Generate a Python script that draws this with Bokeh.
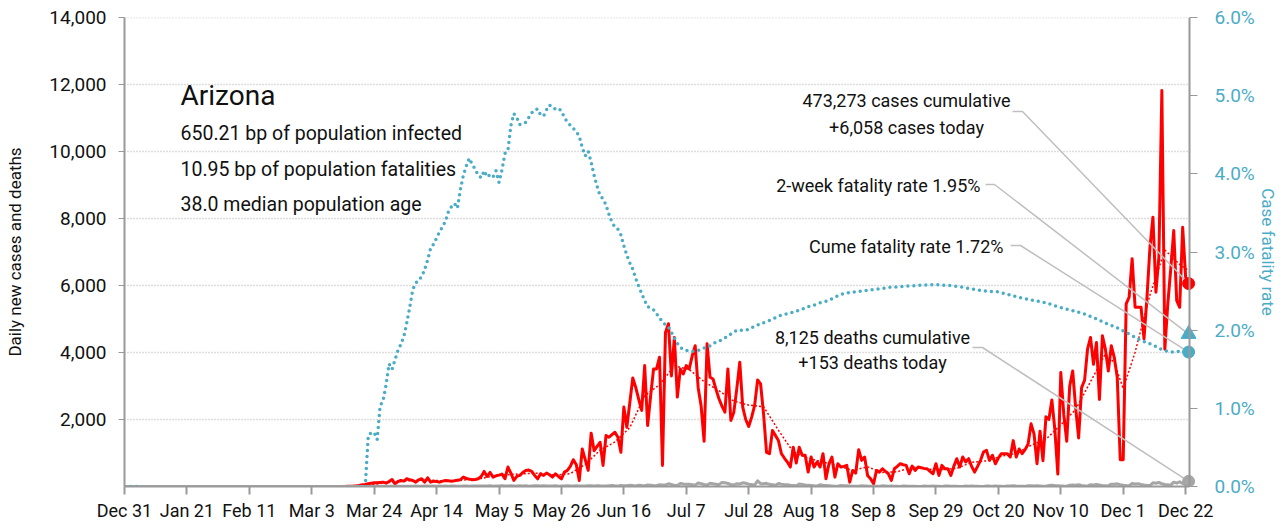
import math
from bokeh.plotting import figure
from bokeh.models import (Range1d, LinearAxis, FixedTicker, NumeralTickFormatter,
                          PrintfTickFormatter, Label, Span)
from bokeh.embed import file_html
from bokeh.resources import INLINE

# ---------------- data (day 0 = Dec 31, 2019) ----------------
x_tick_days = [0, 21, 42, 63, 84, 105, 126, 147, 168, 189, 210, 231, 252, 273, 294, 315, 336, 357]
x_tick_labels = ["Dec 31", "Jan 21", "Feb 11", "Mar 3", "Mar 24", "Apr 14", "May 5", "May 26",
                 "Jun 16", "Jul 7", "Jul 28", "Aug 18", "Sep 8", "Sep 29", "Oct 20", "Nov 10",
                 "Dec 1", "Dec 22"]
left_ticks = [2000, 4000, 6000, 8000, 10000, 12000, 14000]
right_ticks = [0, 1, 2, 3, 4, 5, 6]

# daily new cases, from day 70 (Mar 10) on; zero before
cases = [0] * 70 + [
    0, 0, 1, 2, 3, 5, 8,
    12, 20, 30, 50, 60, 80, 100,
    110, 110, 120, 130, 100, 150, 210,
    80, 150, 180, 160, 230, 200, 180,
    130, 200, 230, 130, 260, 130, 160,
    150, 130, 160, 180, 170, 160, 170,
    190, 200, 280, 240, 220, 200, 210,
    230, 300, 450, 300, 420, 280, 320,
    340, 370, 230, 580, 400, 180, 300,
    330, 420, 480, 490, 450, 330, 230,
    380, 330, 400, 350, 280, 380, 300,
    230, 430, 480, 600, 800, 650, 180,
    1120, 800, 480, 1590, 1070, 1200, 1320,
    630, 1520, 1470, 1550, 1620, 1470, 1020,
    2370, 1770, 2500, 3240, 2960, 2600, 2270,
    3610, 1820, 2700, 3510, 3510, 3860, 630,
    4600, 4860, 3300, 4450, 2670, 3510, 3360,
    3610, 3510, 3900, 4200, 2950, 2400, 1350,
    4260, 3260, 3210, 2900, 2620, 2400, 2220,
    3510, 1970, 2220, 2920, 3710, 2370, 2000,
    1790, 2070, 2420, 3180, 3060, 2170, 1020,
    980, 1670, 1520, 1370, 980, 850, 730,
    580, 1170, 700, 1170, 930, 930, 430,
    880, 580, 730, 580, 980, 230, 680,
    880, 280, 680, 580, 600, 630, 130,
    480, 400, 1100, 780, 880, 330, 230,
    80, 480, 430, 530, 450, 380, 180,
    530, 600, 680, 650, 630, 380, 610,
    480, 580, 560, 540, 530, 450, 380,
    680, 330, 630, 530, 530, 330, 600,
    830, 580, 880, 730, 830, 600, 430,
    600, 780, 1030, 1080, 780, 930, 680,
    850, 980, 980, 980, 880, 1370, 880,
    1120, 980, 1100, 1270, 1870, 1570, 680,
    1650, 770, 2080, 2000, 2580, 1700, 370,
    3400, 2150, 1350, 3000, 3450, 2350, 1450,
    2950, 3170, 4100, 4450, 3650, 4300, 2600,
    4500, 4100, 3450, 4200, 3850, 3250, 800,
    800, 5450, 5650, 6800, 5350, 5350, 5350,
    4410, 5650, 7140, 8040, 5800, 6850, 11820,
    4100, 5450, 6500, 7640, 5550, 5350, 7740,
    6250, 6058,
]

# daily deaths, from day 78 (Mar 18) on; zero before
deaths = [0] * 78 + [
    0, 0, 1, 0, 2, 1, 2,
    3, 2, 4, 3, 5, 4, 6,
    5, 8, 7, 10, 6, 9, 12,
    10, 8, 14, 12, 9, 15, 11,
    13, 10, 16, 9, 14, 12, 11,
    10, 15, 13, 8, 16, 12, 14,
    17, 12, 15, 20, 10, 18, 14,
    22, 16, 12, 25, 18, 14, 20,
    15, 21, 11, 17, 24, 19, 13,
    20, 16, 12, 18, 22, 10, 15,
    14, 20, 17, 12, 25, 18, 15,
    16, 22, 19, 14, 25, 20, 18,
    12, 24, 28, 20, 16, 30, 25,
    22, 35, 28, 18, 40, 30, 25,
    44, 38, 30, 25, 52, 48, 45,
    80, 60, 35, 28, 90, 75, 65,
    70, 55, 40, 105, 85, 60, 45,
    95, 80, 70, 55, 120, 110, 90,
    60, 45, 85, 75, 110, 95, 70,
    60, 40, 172, 85, 80, 95, 65,
    50, 35, 90, 70, 60, 55, 40,
    30, 20, 75, 60, 45, 40, 30,
    20, 15, 50, 35, 30, 25, 18,
    10, 8, 30, 25, 20, 15, 10,
    6, 5, 25, 18, 12, 10, 8,
    5, 4, 20, 15, 10, 12, 6,
    4, 3, 18, 12, 10, 8, 5,
    3, 2, 15, 10, 8, 12, 6,
    4, 3, 12, 18, 10, 8, 5,
    2, 1, 14, 10, 12, 8, 6,
    3, 2, 16, 12, 10, 14, 8,
    5, 3, 18, 14, 20, 12, 10,
    6, 4, 22, 25, 18, 20, 15,
    10, 8, 30, 35, 28, 25, 18,
    12, 10, 40, 45, 35, 50, 30,
    20, 15, 55, 48, 60, 42, 30,
    25, 18, 70, 65, 80, 55, 40,
    30, 25, 90, 75, 85, 60, 45,
    35, 30, 110, 95, 120, 80, 60,
    50, 40, 130, 100, 140, 90, 70,
    153,
]

# 7-day average of new cases, read at selected days
avg_days = [0, 75, 80, 85, 90, 95, 100, 105, 110, 115, 120, 125, 130, 135, 140, 145, 150,
            155, 160, 165, 170, 175, 180, 185, 190, 195, 200, 205, 210, 215, 220, 225, 230,
            235, 240, 245, 250, 255, 260, 265, 270, 275, 280, 285, 290, 295, 300, 305, 310,
            315, 320, 325, 330, 333, 336, 340, 345, 350, 355, 358]
avg_cases = [0, 2, 18, 77, 133, 166, 190, 180, 159, 201, 240, 329, 360, 384, 397, 336, 386,
             661, 1083, 1330, 1757, 2707, 3040, 3601, 3490, 3130, 2860, 2550, 2430, 2380, 1680,
             1030, 845, 730, 615, 480, 585, 420, 440, 580, 520, 505, 540, 720, 765, 905, 990,
             1230, 1410, 1840, 2300, 3130, 3960, 3700, 2920, 4010, 5720, 7060, 6630, 6440]

# case fatality rate (%)
cfr_early_days = [0, 6]
cfr_early = [0.0, 0.0]
cfr_days = [79, 81, 82, 83, 84, 85, 86, 87, 88, 89, 90, 91, 92, 93, 94, 95, 96, 97, 98, 99,
            100, 101, 102, 103, 104, 105, 106, 107, 108, 109, 110, 111, 112, 113, 114, 115,
            116, 117, 118, 119, 120, 121, 122, 123, 124, 125, 126, 127, 128, 129, 130, 131,
            132, 133, 134, 135, 136, 137, 138, 139, 140, 141, 142, 143, 144, 145, 146, 147,
            148, 149, 150, 151, 152, 153, 154, 155, 156, 157, 158, 159, 160, 161, 162, 163,
            164, 165, 166, 167, 168, 169, 170, 171, 172, 173, 174, 175, 176, 177, 178, 179,
            180, 181, 182, 183, 184, 185, 186, 187, 188, 189, 190, 191, 192, 193, 194, 195,
            196, 197, 198, 199, 200, 201, 202, 203, 204, 205, 206, 207, 208, 209, 210, 212,
            214, 216, 218, 220, 222, 224, 226, 228, 230, 232, 234, 236, 238, 240, 242, 244,
            246, 248, 250, 252, 254, 258, 262, 266, 270, 274, 278, 282, 286, 290, 294, 298,
            302, 306, 310, 314, 318, 322, 326, 330, 334, 338, 342, 346, 349, 352, 355, 358]
cfr_pct = [0.0, 0.0, 0.65, 0.69, 0.69, 0.60, 1.03, 1.10, 1.30, 1.57, 1.50, 1.62, 1.74, 1.82,
           1.92, 2.10, 2.30, 2.52, 2.60, 2.65, 2.68, 2.78, 2.90, 3.05, 3.10, 3.18, 3.26, 3.32,
           3.40, 3.52, 3.58, 3.62, 3.56, 3.80, 3.98, 4.10, 4.20, 4.12, 4.06, 3.98, 3.95, 4.04,
           3.96, 3.99, 3.96, 4.04, 3.89, 4.05, 4.26, 4.30, 4.62, 4.77, 4.72, 4.63, 4.64, 4.66,
           4.72, 4.78, 4.82, 4.83, 4.75, 4.74, 4.82, 4.88, 4.84, 4.83, 4.84, 4.80, 4.72, 4.66,
           4.62, 4.58, 4.54, 4.48, 4.34, 4.23, 4.29, 4.15, 3.98, 3.84, 3.72, 3.68, 3.60, 3.48,
           3.38, 3.32, 3.29, 3.22, 3.08, 2.96, 2.86, 2.78, 2.66, 2.56, 2.47, 2.38, 2.30, 2.29,
           2.26, 2.21, 2.16, 2.10, 2.07, 2.04, 1.97, 1.90, 1.83, 1.78, 1.75, 1.74, 1.74, 1.73,
           1.73, 1.74, 1.76, 1.77, 1.78, 1.80, 1.82, 1.85, 1.86, 1.88, 1.90, 1.93, 1.95, 1.97,
           2.00, 2.00, 2.00, 2.00, 2.01, 2.05, 2.08, 2.11, 2.14, 2.18, 2.20, 2.22, 2.24, 2.27,
           2.30, 2.32, 2.35, 2.37, 2.40, 2.44, 2.47, 2.48, 2.49, 2.50, 2.51, 2.52, 2.53, 2.55,
           2.56, 2.57, 2.58, 2.58, 2.57, 2.55, 2.52, 2.50, 2.49, 2.45, 2.41, 2.38, 2.35, 2.30,
           2.26, 2.22, 2.16, 2.09, 2.03, 1.95, 1.87, 1.81, 1.75, 1.72, 1.73, 1.72]

state = "Arizona"
bp_infected = 650.21
bp_fatalities = 10.95
median_age = 38.0
cum_cases = 473273
cum_deaths = 8125
two_week_cfr = 1.95

# ---------------- styling / layout ----------------
FONT = "Roboto"
RED = "#FF0000"
BLUE = "#4BACC6"
GRAY = "#A6A6A6"
AXIS = "#999999"
LEAD = "#BFBFBF"

W, H = 1284, 529
# frame in page pixels (page has no margin in Bokeh's template)
FL, FT, FB = 124, 17, 486
AX_R = 1189                 # x pixel of the right (CFR) axis line
FR = 1196                   # frame extends a bit further so end markers are not clipped
X_END = 358.3               # day at the right axis line
PX_PER_DAY = (AX_R - FL) / X_END
X_MAX = (FR - FL) / PX_PER_DAY
Y_MAX = 14000
R_MAX = 6.0

days = list(range(len(cases)))
death_days = list(range(len(deaths)))

p = figure(width=W, height=H, output_backend="svg", toolbar_location=None,
           x_range=Range1d(0, X_MAX), y_range=Range1d(0, Y_MAX),
           min_border_left=FL, min_border_right=W - FR, min_border_top=FT,
           min_border_bottom=H - FB, outline_line_color=None)
p.extra_y_ranges = {"cfr": Range1d(0, R_MAX)}

# bottom axis
xa = p.xaxis[0]
xa.ticker = FixedTicker(ticks=x_tick_days)
xa.major_label_overrides = {d: s for d, s in zip(x_tick_days, x_tick_labels)}
xa.bounds = (0, X_END)
xa.axis_line_color = AXIS
xa.axis_line_width = 2
xa.major_tick_line_color = AXIS
xa.major_tick_line_width = 2
xa.major_tick_out = 8
xa.major_tick_in = 0
xa.minor_tick_line_color = None
xa.major_label_standoff = 5
xa.major_label_text_font = FONT
xa.major_label_text_font_size = "18px"
xa.major_label_text_color = "#111111"

# left axis
ya = p.yaxis[0]
ya.ticker = FixedTicker(ticks=left_ticks)
ya.formatter = NumeralTickFormatter(format="0,0")
ya.axis_line_color = AXIS
ya.axis_line_width = 2
ya.major_tick_line_color = AXIS
ya.major_tick_line_width = 1
ya.major_tick_out = 6
ya.major_tick_in = 0
ya.minor_tick_line_color = None
ya.major_label_standoff = 12
ya.major_label_text_font = FONT
ya.major_label_text_font_size = "19px"
ya.major_label_text_color = "#111111"
ya.axis_label = "Daily new cases and deaths"
ya.axis_label_text_font = FONT
ya.axis_label_text_font_size = "17px"
ya.axis_label_text_font_style = "normal"
ya.axis_label_text_color = "#111111"
ya.axis_label_standoff = 21

# right axis (line drawn separately at the last day)
ra = LinearAxis(y_range_name="cfr", ticker=FixedTicker(ticks=right_ticks),
                formatter=PrintfTickFormatter(format="%.1f%%"))
ra.axis_line_color = None
ra.major_tick_line_color = AXIS
ra.major_tick_line_width = 1
ra.major_tick_out = 1
ra.major_tick_in = FR - AX_R
ra.minor_tick_line_color = None
ra.major_label_standoff = 17
ra.major_label_text_font = FONT
ra.major_label_text_font_size = "19px"
ra.major_label_text_color = BLUE
ra.axis_label = "Case fatality rate"
ra.axis_label_text_font = FONT
ra.axis_label_text_font_size = "17px"
ra.axis_label_text_font_style = "normal"
ra.axis_label_text_color = BLUE
ra.axis_label_standoff = 0
p.add_layout(ra, "right")
p.add_layout(Span(location=X_END, dimension="height", line_color=AXIS, line_width=2))

# horizontal grid lines, ending at the right axis line
p.xgrid.grid_line_color = None
p.ygrid.grid_line_color = None
p.segment(x0=[0] * len(left_ticks), y0=left_ticks, x1=[X_END] * len(left_ticks), y1=left_ticks,
          line_color="#BBBBBB", line_dash="1 2", line_width=1.5)

# series
p.line(avg_days, avg_cases, line_color=RED, line_width=1.5, line_dash="2 2")
p.line(days, cases, line_color=RED, line_width=3, line_join="round")
p.line(death_days, deaths, line_color=GRAY, line_width=3, line_join="round")
p.line(cfr_early_days, cfr_early, y_range_name="cfr", line_color=BLUE, line_width=3.5,
       line_dash="0 6", line_cap="round")
p.line(cfr_days, cfr_pct, y_range_name="cfr", line_color=BLUE, line_width=3.5,
       line_dash="0 6", line_cap="round")

# helpers converting page pixels into data coordinates (layout only)
def dx(px):
    return (px - FL) / PX_PER_DAY

def dy(py):
    return (FB - py) / (FB - FT) * Y_MAX

R2L = Y_MAX / R_MAX
last = days[-1]

# leader lines: text end -> short horizontal -> end marker
leaders = [
    (1012, 1022, 111, cases[-1]),
    (985, 994, 184, two_week_cfr * R2L),
    (1010, 1020, 245, cfr_pct[-1] * R2L),
    (972, 982, 347, deaths[-1]),
]
for x0, x1, y0, yv in leaders:
    p.line([dx(x0), dx(x1), last], [dy(y0), dy(y0), yv], line_color=LEAD, line_width=1.5)

# end markers
p.scatter([last], [cases[-1]], size=12, color=RED)
p.scatter([last], [deaths[-1]], size=12, color=GRAY)
p.scatter([last], [two_week_cfr], y_range_name="cfr", marker="triangle", size=15, color=BLUE)
p.scatter([last], [cfr_pct[-1]], y_range_name="cfr", size=12, color=BLUE)

def label(px, py, text, size="18px", align="left", color="#111111"):
    p.add_layout(Label(x=dx(px), y=dy(py), text=text, text_font=FONT,
                       text_font_size=size, text_align=align, text_baseline="middle",
                       text_color=color))

label(180, 95, state, size="28px")
label(180, 133, f"{bp_infected:.2f} bp of population infected", size="19.5px")
label(180, 169, f"{bp_fatalities:.2f} bp of population fatalities", size="19.5px")
label(180, 204, f"{median_age:.1f} median population age", size="19.5px")

label(906, 100, f"{cum_cases:,} cases cumulative", align="center")
label(906, 127, f"+{cases[-1]:,} cases today", align="center")
label(980, 185, f"2-week fatality rate {two_week_cfr:.2f}%", align="right")
label(1003, 246, f"Cume fatality rate {cfr_pct[-1]:.2f}%", align="right")
label(872, 337, f"{cum_deaths:,} deaths cumulative", align="center")
label(872, 362, f"+{deaths[-1]:,} deaths today", align="center")

open("out.html", "w").write(file_html(p, INLINE))
